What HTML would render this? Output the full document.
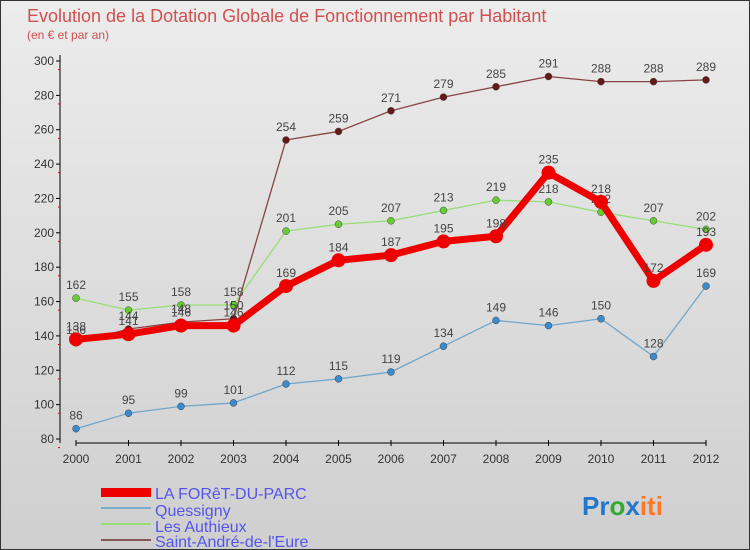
<!DOCTYPE html>
<html><head><meta charset="utf-8"><style>
body{margin:0}
#c{width:750px;height:550px;position:relative;background:linear-gradient(#ececec,#cfcfcf);box-sizing:border-box;border:1px solid #333;font-family:"Liberation Sans",sans-serif;overflow:hidden}
</style></head><body>
<div id="c">
<svg width="750" height="550" style="position:absolute;left:-1px;top:-1px" font-family="Liberation Sans, sans-serif">
<text x="27" y="22" font-size="18" fill="#d05050">Evolution de la Dotation Globale de Fonctionnement par Habitant</text>
<text x="27" y="39" font-size="12" fill="#d05050">(en € et par an)</text>
<g id="axes"></g><g id="series"></g>
<g font-size="16" fill="#5555ee">
<rect x="101" y="488" width="50" height="9" fill="#e00"/>
<text x="155" y="499">LA FORêT-DU-PARC</text>
<rect x="101" y="507" width="50" height="2" fill="#7aaccc"/>
<text x="155" y="516">Quessigny</text>
<rect x="101" y="523" width="50" height="2" fill="#99dd77"/>
<text x="155" y="532">Les Authieux</text>
<rect x="101" y="539" width="50" height="2" fill="#885555"/>
<text x="155" y="547">Saint-André-de-l'Eure</text>
</g>
<text x="582" y="515" font-size="26" font-weight="bold"><tspan fill="#2277cc">Pr</tspan><tspan fill="#33aa33">o</tspan><tspan fill="#2277cc">x</tspan><tspan fill="#ff7722">iti</tspan></text>
</svg>
</div>
<script>
const years=[2000,2001,2002,2003,2004,2005,2006,2007,2008,2009,2010,2011,2012];
const foret=[138,141,146,146,169,184,187,195,198,235,218,172,193];
const quessigny=[86,95,99,101,112,115,119,134,149,146,150,128,169];
const authieux=[162,155,158,158,201,205,207,213,219,218,212,207,202];
const saintAndre=[136,144,148,150,254,259,271,279,285,291,288,288,289];
const yTicks=[80,100,120,140,160,180,200,220,240,260,280,300];
const NS="http://www.w3.org/2000/svg";
const xs=i=>76+i*52.5;
const ys=v=>439-(v-80)*(378/220);
function mk(t,a,p){const e=document.createElementNS(NS,t);for(const k in a)e.setAttribute(k,a[k]);p.appendChild(e);return e;}
const ax=document.getElementById('axes');
let l=mk('line',{x1:60,y1:55,x2:60,y2:443,stroke:'#000'},ax);

l=mk('line',{x1:76,y1:443,x2:706,y2:443,stroke:'#000'},ax);

yTicks.forEach(v=>{const y=ys(v);mk('line',{x1:56,y1:y,x2:60,y2:y,stroke:'#000'},ax);
 mk('line',{x1:58,y1:y+8.6,x2:60,y2:y+8.6,stroke:'#e00'},ax);
 const t=mk('text',{x:54,y:y+4,'font-size':12,fill:'#333','text-anchor':'end'},ax);t.textContent=v;
 });
years.forEach((yr,i)=>{const x=xs(i);mk('line',{x1:x,y1:440,x2:x,y2:446,stroke:'#000'},ax);
 const t=mk('text',{x:x,y:463,'font-size':12,fill:'#333','text-anchor':'middle'},ax);t.textContent=yr;
 });
const sg=document.getElementById('series');
function series(d,name,col,dot,w,r){const g=mk('g',{},sg);
 
 const p=mk('polyline',{points:d.map((v,i)=>xs(i)+','+ys(v)).join(' '),fill:'none',stroke:col,'stroke-width':w,'stroke-linejoin':'round'},g);
 
 d.forEach((v,i)=>{const c=mk('circle',{cx:xs(i),cy:ys(v),r:r,fill:dot,stroke:w>3?'none':'#444','stroke-width':0.5},g);
  
  const t=mk('text',{x:xs(i),y:ys(v)-9,'font-size':12,fill:'#444','text-anchor':'middle'},g);t.textContent=v;
  });}
series(quessigny,'quessigny','#6fa6cc','#3a8acc',1.3,3.5);
series(authieux,'authieux','#99dd77','#66cc33',1.3,3.5);
series(saintAndre,'saint-andre','#884444','#661818',1.3,3.5);
series(foret,'foret','#ee0000','#ee0000',7,7);
</script>
</body></html>
